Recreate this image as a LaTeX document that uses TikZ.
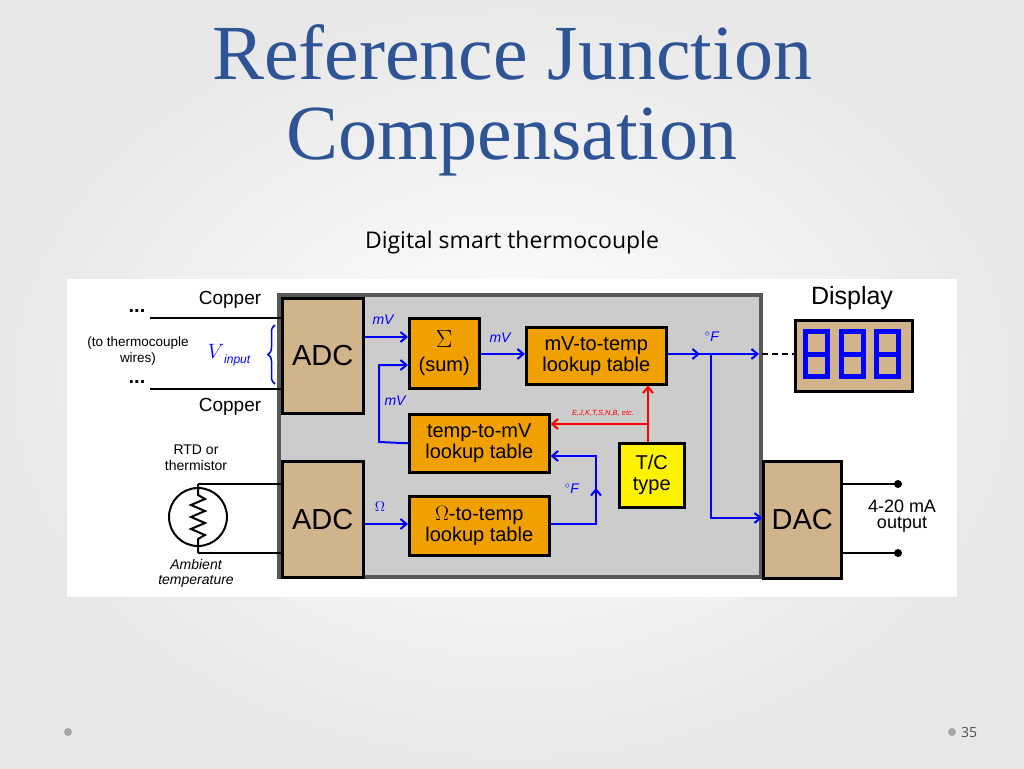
\documentclass[tikz,border=0pt]{standalone}
\usepackage{fontspec}
\setmainfont{Liberation Sans}
\newfontfamily\titlefont{Liberation Serif}
\newfontfamily\subfont{Open Sans}
\usetikzlibrary{arrows.meta,decorations.pathreplacing}
\definecolor{tan}{HTML}{D2B48C}
\definecolor{org}{HTML}{F0A000}
\definecolor{blu}{HTML}{0000FF}
\definecolor{ttl}{HTML}{2F5496}
\tikzset{
 blk/.style={draw=black,line width=2.5pt,inner sep=0pt},
 adcbox/.style={blk,fill=tan,font=\fontsize{29}{30}\selectfont},
 lut/.style={blk,fill=org,font=\fontsize{20}{21}\selectfont,align=center},
 sig/.style={blu,line width=2pt,-{Straight Barb[length=6pt,width=10pt]}},
 wire/.style={black,line width=2.5pt},
 lab/.style={blu,font=\itshape\fontsize{14}{14}\selectfont},
 note/.style={font=\fontsize{14}{16}\selectfont,align=center},
}
\begin{document}
\begin{tikzpicture}[x=1pt,y=-1pt]
\useasboundingbox (0,0) rectangle (1024,768);
\shade[inner color=white,outer color=gray!18] (0,0) rectangle (1024,768);
\node[ttl,font=\titlefont\fontsize{78}{80}\selectfont,align=center] (title) at (512,100) {Reference Junction\\Compensation};
\node[font=\subfont\fontsize{23}{24}\selectfont] (sub) at (512,243) {Digital smart thermocouple};
\fill (418,280) circle (1.2);
\fill[white] (67,279) rectangle (957,597);
% main box
\draw[fill=gray!40,draw=gray!70!black,line width=4pt] (279,295) rectangle (761,577);
\node[adcbox,minimum width=81,minimum height=115,anchor=north west] (adc1) at (281,297) {ADC};
\node[adcbox,minimum width=81,minimum height=116,anchor=north west] (adc2) at (281,460) {ADC};
\node[adcbox,minimum width=78,minimum height=117,anchor=north west] (dac) at (762,460) {DAC};
\node[lut,minimum width=70,minimum height=70,anchor=north west,font=\fontsize{20}{24}\selectfont] (sum) at (408,317) {{\fontsize{28}{28}\selectfont$\Sigma$}\\(sum)};
\node[lut,minimum width=140,minimum height=57,anchor=north west] (mvt) at (525,326) {mV-to-temp\\lookup table};
\node[lut,minimum width=140,minimum height=58,anchor=north west] (tmv) at (408,413) {temp-to-mV\\lookup table};
\node[lut,minimum width=140,minimum height=59,anchor=north west] (ot) at (408,495) {$\Omega$-to-temp\\lookup table};
\node[lut,fill=yellow,minimum width=65,minimum height=64,anchor=north west] (tc) at (618,442) {T/C\\type};
% display
\node[blk,fill=tan,minimum width=117,minimum height=71,anchor=north west] (disp) at (794,319) {};
\node[font=\fontsize{25}{26}\selectfont] (displab) at (852,298) {Display};
\foreach \x in {803,839,874}{
 \draw[blu,line width=5pt] (\x+2.5,331.5) rectangle (\x+24.5,376.5);
 \draw[blu,line width=5pt] (\x+2.5,354) -- (\x+24.5,354);}
% input wires
\coordinate (c1) at (150,318); \coordinate (c2) at (150,389);
\draw[wire] (c1) -- (adc1.west |- c1);
\draw[wire] (c2) -- (adc1.west |- c2);
\node[font=\fontsize{20}{20}\selectfont] (d1) at (137,311) {\textbf{...}};
\node[font=\fontsize{20}{20}\selectfont] (d2) at (137,382) {\textbf{...}};
\node[font=\fontsize{19}{19}\selectfont] (cu1) at (230,300) {Copper};
\node[font=\fontsize{19}{19}\selectfont] (cu2) at (230,407) {Copper};
\node[note,font=\fontsize{13.5}{16}\selectfont] (tw) at (138,351) {(to thermocouple\\wires)};
\node[blu,font=\fontsize{20}{20}\selectfont] (vin) at (229,355) {$V$\raisebox{-5pt}{\fontsize{12}{12}\selectfont\itshape input}};
\draw[blu,line width=1.5pt,decorate,decoration={brace,amplitude=7pt}] (275,384) -- (275,325);
% RTD
\coordinate (r0) at (198,484); \coordinate (r1) at (198,553);
\draw[wire,line width=2pt] (r0) -- (adc2.west |- r0);
\draw[wire,line width=2pt] (r1) -- (adc2.west |- r1);
\draw[line width=2pt] (198,517) circle (29);
\draw[line width=2pt] (r0) -- (198,495) -- (205,499) -- (191,505) -- (205,511) -- (191,517) -- (205,523) -- (191,529) -- (205,535) -- (198,539) -- (r1);
\node[note] (rtd) at (196,458) {RTD or\\thermistor};
\node[note,font=\itshape\fontsize{14}{15}\selectfont] (amb) at (196,573) {Ambient\\temperature};
% signals
\draw[sig] (adc1.east |- 0,337) -- (sum.west |- 0,337);
\node[lab] (l1) at (383,320) {mV};
\draw[sig] (tmv.west) -- (379,442) -- (379,365) -- (sum.west |- 0,365);
\node[lab] (l2) at (395,401) {mV};
\draw[sig] (sum.east |- 0,354) -- (mvt.west |- 0,354);
\node[lab] (l3) at (500,338) {mV};
\coordinate (br) at (711,354);
\draw[sig] (mvt.east |- 0,354) -- (700,354);
\draw[sig] (br) -- (759,354);
\draw[blu,line width=2pt] (mvt.east |- 0,354) -- (br);
\draw[sig] (br) -- (711,518) -- (dac.west |- 0,518);
\node[lab] (l4) at (712,337) {$^\circ$F};
\draw[line width=2pt,dash pattern=on 6pt off 4pt] (762,354) -- (disp.west |- 0,354);
\draw[sig] (adc2.east |- 0,524) -- (ot.west |- 0,524);
\node[lab] (l5) at (380,507) {$\Omega$};
\draw[sig] (ot.east |- 0,524) -- (596,524) -- (596,488);
\draw[sig] (596,490) -- (596,456) -- (tmv.east |- 0,456);
\node[lab] (l6) at (572,489) {$^\circ$F};
% red
\draw[red,line width=2pt,-{Straight Barb[length=6pt,width=10pt]}] (tc.north -| 648,0) -- (648,424) -- (mvt.south -| 648,0);
\draw[red,line width=2pt,-{Straight Barb[length=6pt,width=10pt]}] (648,424) -- (tmv.east |- 0,424);
\node[red,font=\itshape\fontsize{7.5}{8}\selectfont] (l7) at (603,413) {E,J,K,T,S,N,B, etc.};
% output
\coordinate (o1) at (898,484); \coordinate (o2) at (898,553);
\draw[wire,line width=2pt] (dac.east |- o1) -- (o1);
\draw[wire,line width=2pt] (dac.east |- o2) -- (o2);
\fill (o1) circle (4); \fill (o2) circle (4);
\node[font=\fontsize{18}{16}\selectfont,align=center] (out) at (902,516) {4-20 mA\\output};
% footer
\fill[gray!70] (68,732) circle (4); \fill[gray!70] (952,732) circle (4);
\node[gray!60!black,font=\subfont\fontsize{14}{14}\selectfont] (pg) at (969,732) {35};
\end{tikzpicture}
\end{document}
